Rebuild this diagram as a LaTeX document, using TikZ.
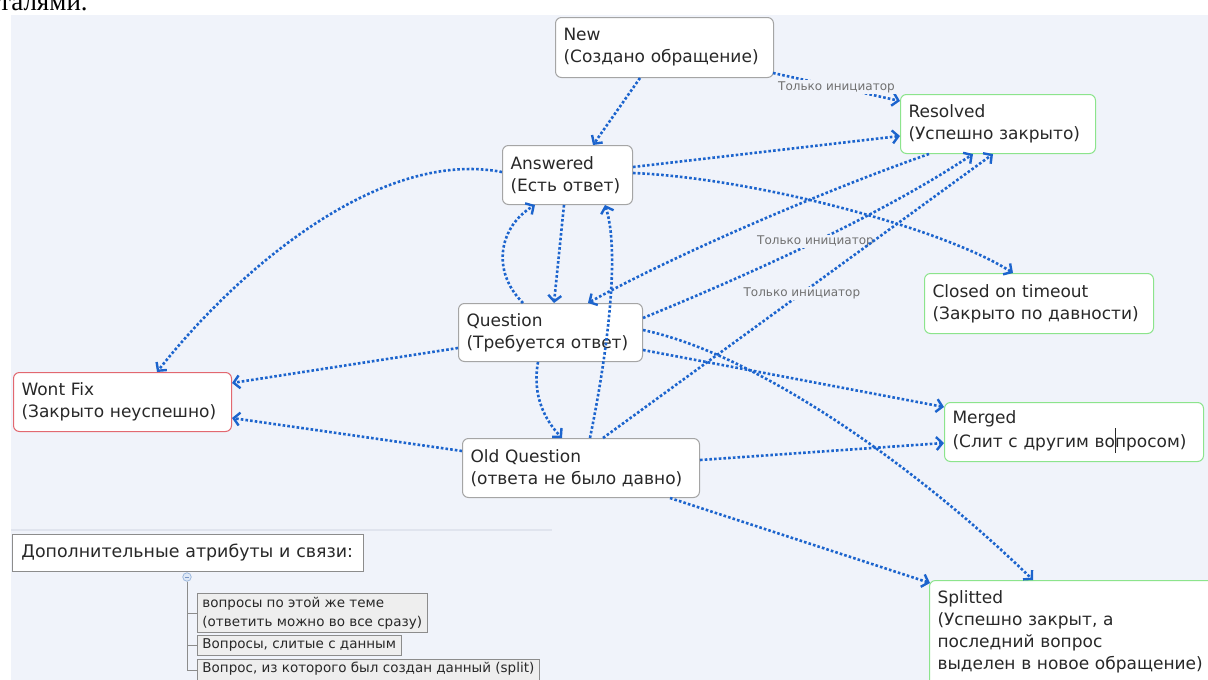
\documentclass[tikz,border=0pt]{standalone}
\usepackage{fontspec}
\setmainfont{DejaVu Sans}
\newfontfamily\serifcut{Liberation Serif}
\usetikzlibrary{arrows.meta,calc}
\definecolor{bg}{RGB}{240,243,250}
\definecolor{lineblue}{RGB}{28,100,205}
\definecolor{boxgray}{RGB}{165,165,165}
\definecolor{boxgreen}{RGB}{140,228,140}
\definecolor{boxred}{RGB}{226,104,112}
\definecolor{txt}{RGB}{40,40,40}
\definecolor{lblgray}{RGB}{112,112,112}
\definecolor{itemfill}{RGB}{238,238,238}
\definecolor{itemdraw}{RGB}{140,140,140}
\definecolor{sepline}{RGB}{224,228,238}
\definecolor{ccdraw}{RGB}{150,180,220}
\definecolor{ccfill}{RGB}{222,232,246}
\definecolor{ccminus}{RGB}{120,150,200}
\newcommand\oneline[1]{\mbox{#1}}
\newcommand\cursorbar{\makebox[0pt]{\rule[-6pt]{0.9pt}{25pt}}}
\tikzset{
  state/.style={draw=boxgray, fill=white, rounded corners=6pt, line width=1pt,
    anchor=north west, align=left, inner xsep=8pt, inner ysep=0pt,
    font=\fontsize{17}{22}\selectfont, text=txt},
  okstate/.style={state, draw=boxgreen},
  badstate/.style={state, draw=boxred},
  flow/.style={draw=lineblue, line width=2.6pt, dash pattern=on 2.6pt off 2.1pt,
    -{Straight Barb[length=6pt,width=13pt,line width=2.4pt]}},
  lbl/.style={fill=bg, text=lblgray, font=\fontsize{12}{14}\selectfont, inner sep=1pt},
  legendhead/.style={draw=itemdraw, fill=white, line width=0.9pt, anchor=north west,
    align=left, inner xsep=9pt, inner ysep=0pt, font=\fontsize{17.4}{20}\selectfont, text=txt},
  legenditem/.style={draw=itemdraw, fill=itemfill, line width=0.9pt, anchor=north west,
    align=left, inner xsep=5pt, inner ysep=3.5pt, font=\fontsize{13.5}{19}\selectfont, text=txt},
  treeline/.style={draw=itemdraw, line width=0.8pt}
}
\begin{document}
\begin{tikzpicture}[x=1pt,y=-1pt]
\useasboundingbox (0,0) rectangle (1208,680);
\fill[white] (0,0) rectangle (1208,680);
\fill[bg] (11,15) rectangle (1208,680);
\node[font=\serifcut\fontsize{27}{30}\selectfont, anchor=base west, inner sep=0pt, text=black] (cut) at (-1,10) {талями.};

% states
\node[state, text width=202pt, minimum height=60pt] (new) at (555,17) {\oneline{New}\\\oneline{(Создано обращение)}};
\node[okstate, text width=179pt, minimum height=59pt] (resolved) at (900,94) {\oneline{Resolved}\\\oneline{(Успешно закрыто)}};
\node[state, text width=114pt, minimum height=59pt] (answered) at (502,145) {\oneline{Answered}\\\oneline{(Есть ответ)}};
\node[okstate, text width=213pt, minimum height=60pt] (closed) at (924,273) {\oneline{Closed on timeout}\\\oneline{(Закрыто по давности)}};
\node[state, text width=168pt, minimum height=58pt] (question) at (458,303) {\oneline{Question}\\\oneline{(Требуется ответ)}};
\node[badstate, text width=202pt, minimum height=59pt] (wontfix) at (13,372) {\oneline{Wont Fix}\\\oneline{(Закрыто неуспешно)}};
\node[okstate, text width=243pt, minimum height=59pt] (merged) at (944,402) {\oneline{Merged}\\\oneline{(Слит с другим во\cursorbar просом)}};
\node[state, text width=221pt, minimum height=59pt] (oldq) at (462,438) {\oneline{Old Question}\\\oneline{(ответа не было давно)}};
\node[okstate, text width=280pt, inner ysep=10pt] (splitted) at (929,580) {\oneline{Splitted}\\\oneline{(Успешно закрыт, а}\\\oneline{последний вопрос}\\\oneline{выделен в новое обращение)}\\\mbox{}};

% transitions
\draw[flow] ($(new.south west)+(85,0)$) -- ($(answered.north west)+(91,0)$);
\draw[flow] ($(new.south east)+(-1,-5)$) -- ($(resolved.north west)+(0,7)$) node[lbl, midway] {Только инициатор};
\draw[flow] ($(answered.north east)+(0,22)$) -- ($(resolved.north west)+(0,42)$);
\draw[flow] ($(answered.north west)+(0,27)$) .. controls ($(answered.north west)+(-125,3)$) and ($(wontfix.north west)+(221,-98)$) .. ($(wontfix.north west)+(144,0)$);
\draw[flow] ($(answered.north east)+(0,28)$) .. controls ($(answered.north east)+(120,33)$) and ($(closed.north west)+(19,-45)$) .. ($(closed.north west)+(89,0)$);
\draw[flow] ($(answered.south west)+(62,0)$) -- ($(question.north west)+(96,0)$);
\draw[flow] ($(question.north west)+(65,0)$) .. controls ($(question.north west)+(32,-33)$) and ($(answered.south west)+(-2,21)$) .. ($(answered.south west)+(33,0)$);
\draw[flow] ($(resolved.south west)+(29,0)$) .. controls ($(resolved.south west)+(-71,35)$) and ($(question.north west)+(220,-50)$) .. ($(question.north west)+(130,0)$);
\draw[flow] ($(question.north east)+(0,15)$) .. controls ($(question.north east)+(110,-30)$) and ($(resolved.south west)+(-17,60)$) .. ($(resolved.south west)+(73,0)$) node[lbl, pos=0.5] {Только инициатор};
\draw[flow] ($(oldq.north west)+(141,0)$) -- ($(resolved.south west)+(93,0)$) node[lbl, pos=0.51] {Только инициатор};
\draw[flow] ($(oldq.north west)+(128,0)$) .. controls ($(oldq.north west)+(146,-88)$) and ($(answered.south west)+(118,46)$) .. ($(answered.south west)+(103,0)$);
\draw[flow] ($(question.south west)+(80,0)$) .. controls ($(question.south west)+(74,34)$) and ($(oldq.north west)+(83,-18)$) .. ($(oldq.north west)+(100,0)$);
\draw[flow] ($(question.north west)+(0,45)$) -- ($(wontfix.north east)+(0,11)$);
\draw[flow] ($(oldq.north west)+(0,13)$) -- ($(wontfix.north east)+(0,46)$);
\draw[flow] ($(question.north east)+(0,47)$) -- ($(merged.north west)+(0,5)$);
\draw[flow] ($(question.north east)+(0,27)$) .. controls ($(question.north east)+(117,52)$) and ($(splitted.north west)+(-9,-110)$) .. ($(splitted.north west)+(104,0)$);
\draw[flow] ($(oldq.north east)+(0,22)$) -- ($(merged.north west)+(0,41)$);
\draw[flow] ($(oldq.south west)+(208,0)$) -- ($(splitted.north west)+(1,3)$);

% legend
\draw[sepline, line width=1.5pt] (11,530) -- (552,530);
\node[legendhead, text width=333pt, minimum height=37pt] (head) at (12,534) {\oneline{Дополнительные атрибуты и связи:}};
\node[circle, draw=ccdraw, fill=ccfill, line width=0.7pt, inner sep=0pt, minimum size=8.5pt] (cc) at (187,577) {};
\draw[draw=ccminus, line width=0.6pt] ($(cc.center)+(-2,0)$) -- ($(cc.center)+(2,0)$);
\node[legenditem] (i1) at (197,593) {\oneline{вопросы по этой же теме}\\\oneline{(ответить можно во все сразу)}};
\node[legenditem, text height=10pt, text depth=3pt] (i2) at (197,635) {Вопросы, слитые с данным};
\node[legenditem, text height=10pt, text depth=4pt] (i3) at (197,659) {Вопрос, из которого был создан данный (split)};
\draw[treeline] (cc.south) |- (i1.west);
\draw[treeline] (cc.south) |- (i2.west);
\draw[treeline] (cc.south) |- (i3.west);
\end{tikzpicture}
\end{document}
